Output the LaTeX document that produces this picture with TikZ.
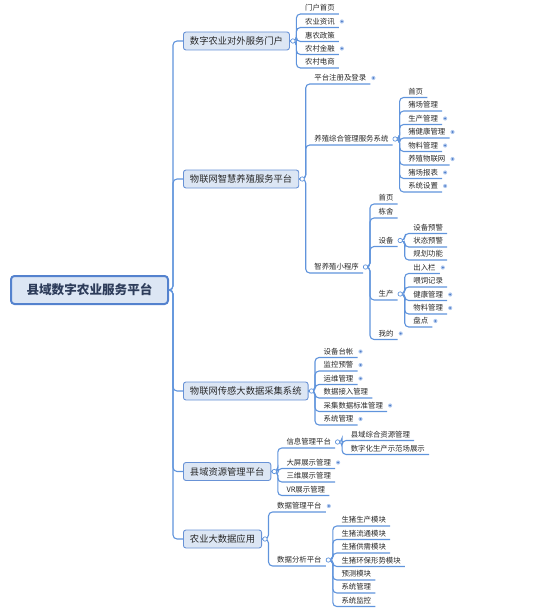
\documentclass[tikz,border=0pt]{standalone}
\usepackage{fontspec}
\setmainfont{Noto Sans CJK SC}
\usetikzlibrary{calc}
\definecolor{ln}{RGB}{96,148,220}
\definecolor{bfill}{RGB}{220,230,244}
\definecolor{bdraw}{RGB}{104,146,214}
\definecolor{rdraw}{RGB}{84,130,206}
\definecolor{txt}{RGB}{40,40,40}
\definecolor{roottxt}{RGB}{45,60,90}
\definecolor{dotin}{RGB}{80,125,200}
\definecolor{dotout}{RGB}{175,200,238}
\tikzset{
 conn/.style={draw=ln, line width=1.1pt, rounded corners=4pt},
 leaf/.style={anchor=south west, inner xsep=0pt, inner ysep=3pt, text depth=0pt, text height=6pt,
   font=\fontsize{7.4}{9}\selectfont, text=txt,
   execute at begin node={\hspace*{8.5pt}}, execute at end node={\hspace*{4pt}}},
 mainbox/.style={anchor=west, draw=bdraw, fill=bfill, line width=0.9pt, rounded corners=2.5pt,
   minimum height=18pt, inner xsep=6.5pt, inner ysep=0pt, font=\fontsize{9.3}{11}\selectfont, text=txt},
 rootbox/.style={anchor=west, draw=rdraw, fill=bfill, line width=2pt, rounded corners=3.5pt,
   minimum height=28pt, minimum width=157pt, font=\fontsize{12.6}{14}\selectfont\bfseries, text=roottxt},
 circ/.style={draw=ln, fill=white, line width=0.7pt},
}
\newcommand\lf[4]{\node[leaf] (#1) at (#2 |- 0,#3) {#4};}
\newcommand\dt[1]{\fill[dotout] ($(#1.south east)+(3,-6)$) circle (2.1);
  \fill[dotin] ($(#1.south east)+(3,-6)$) circle (1);}
\newcommand\ex[1]{\coordinate (#1c) at ($(#1.south east)+(2.5,-6)$);
  \coordinate (#1v) at ($(#1c)+(4.5,0)$);}
\newcommand\mx[1]{\coordinate (#1c) at ($(#1.east)+(3,0)$);
  \coordinate (#1v) at ($(#1.east)+(6.5,0)$);}
\newcommand\cnn[3]{\foreach \c in {#3} {\draw[conn] (#1) -- (#2) -- (\c.south west) -- (\c.south east);}}
\begin{document}
\begin{tikzpicture}[x=1pt,y=-1pt]
\useasboundingbox (0,0) rectangle (536,615);
% root and main boxes
\node[rootbox] (root) at (10,290) {县域数字农业服务平台};
\node[mainbox] (m1) at (183,41) {数字农业对外服务门户};
\node[mainbox] (m2) at (183,179) {物联网智慧养殖服务平台};
\node[mainbox] (m3) at (183,391) {物联网传感大数据采集系统};
\node[mainbox] (m4) at (183,471.5) {县域资源管理平台};
\node[mainbox] (m5) at (183,539) {农业大数据应用};
\coordinate (rv) at ($(root.east)+(4,0)$);
\mx{m1}\mx{m2}\mx{m3}\mx{m4}\mx{m5}
% group 1
\lf{l11}{m1v}{14}{门户首页}
\lf{l12}{m1v}{27.5}{农业资讯}
\lf{l13}{m1v}{41.5}{惠农政策}
\lf{l14}{m1v}{54.5}{农村金融}
\lf{l15}{m1v}{68}{农村电商}
% group 2
\lf{s21}{m2v}{84}{平台注册及登录}
\lf{s22}{m2v}{145}{养殖综合管理服务系统}
\lf{s23}{m2v}{273}{智养殖小程序}
\ex{s22}\ex{s23}
\lf{a1}{s22v}{97.5}{首页}
\lf{a2}{s22v}{111}{猪场管理}
\lf{a3}{s22v}{124.5}{生产管理}
\lf{a4}{s22v}{138}{猪健康管理}
\lf{a5}{s22v}{151.5}{物料管理}
\lf{a6}{s22v}{165}{养殖物联网}
\lf{a7}{s22v}{178.5}{猪场报表}
\lf{a8}{s22v}{192}{系统设置}
\lf{b1}{s23v}{204}{首页}
\lf{b2}{s23v}{218}{栋舍}
\lf{b3}{s23v}{246.5}{设备}
\lf{b4}{s23v}{300}{生产}
\lf{b5}{s23v}{339.5}{我的}
\ex{b3}\ex{b4}
\lf{c1}{b3v}{233.5}{设备预警}
\lf{c2}{b3v}{247}{状态预警}
\lf{c3}{b3v}{260}{规划功能}
\lf{d1}{b4v}{273.5}{出入栏}
\lf{d2}{b4v}{287}{喂饲记录}
\lf{d3}{b4v}{300.5}{健康管理}
\lf{d4}{b4v}{314}{物料管理}
\lf{d5}{b4v}{327}{盘点}
% group 3
\lf{e1}{m3v}{357.5}{设备台帐}
\lf{e2}{m3v}{371}{监控预警}
\lf{e3}{m3v}{384.5}{运维管理}
\lf{e4}{m3v}{398}{数据接入管理}
\lf{e5}{m3v}{411.5}{采集数据标准管理}
\lf{e6}{m3v}{425}{系统管理}
% group 4
\lf{f1}{m4v}{448}{信息管理平台}
\lf{f2}{m4v}{468.5}{大屏展示管理}
\lf{f3}{m4v}{482}{三维展示管理}
\lf{f4}{m4v}{495.5}{VR展示管理}
\ex{f1}
\lf{g1}{f1v}{440.5}{县域综合资源管理}
\lf{g2}{f1v}{454.5}{数字化生产示范场展示}
% group 5
\lf{h1}{m5v}{512}{数据管理平台}
\lf{h2}{m5v}{566}{数据分析平台}
\ex{h2}
\lf{k1}{h2v}{526}{生猪生产模块}
\lf{k2}{h2v}{539.5}{生猪流通模块}
\lf{k3}{h2v}{553}{生猪供需模块}
\lf{k4}{h2v}{566.5}{生猪环保形势模块}
\lf{k5}{h2v}{580}{预测模块}
\lf{k6}{h2v}{593}{系统管理}
\lf{k7}{h2v}{606.5}{系统监控}
% connectors
\foreach \m in {m1,m2,m3,m4,m5} {\draw[conn] (root.east) -- (rv) |- (\m.west);}
\cnn{m1.east}{m1v}{l11,l12,l13,l14,l15}
\cnn{m2.east}{m2v}{s21,s22,s23}
\cnn{s22c}{s22v}{a1,a2,a3,a4,a5,a6,a7,a8}
\cnn{s23c}{s23v}{b1,b2,b3,b4,b5}
\cnn{b3c}{b3v}{c1,c2,c3}
\cnn{b4c}{b4v}{d1,d2,d3,d4,d5}
\cnn{m3.east}{m3v}{e1,e2,e3,e4,e5,e6}
\cnn{m4.east}{m4v}{f1,f2,f3,f4}
\cnn{f1c}{f1v}{g1,g2}
\cnn{m5.east}{m5v}{h1,h2}
\cnn{h2c}{h2v}{k1,k2,k3,k4,k5,k6,k7}
% expand circles
\foreach \p in {m1c,m2c,m3c,m4c,m5c,s22c,s23c,b3c,b4c,f1c,h2c} {\draw[circ] (\p) circle (2.2);}
% collapsed dots
\dt{l12}\dt{l14}\dt{s21}
\dt{a3}\dt{a4}\dt{a5}\dt{a6}\dt{a7}\dt{a8}
\dt{b5}\dt{d1}\dt{d3}\dt{d4}\dt{d5}
\dt{e1}\dt{e2}\dt{e3}\dt{e5}\dt{e6}
\dt{f2}\dt{h1}
\end{tikzpicture}
\end{document}
